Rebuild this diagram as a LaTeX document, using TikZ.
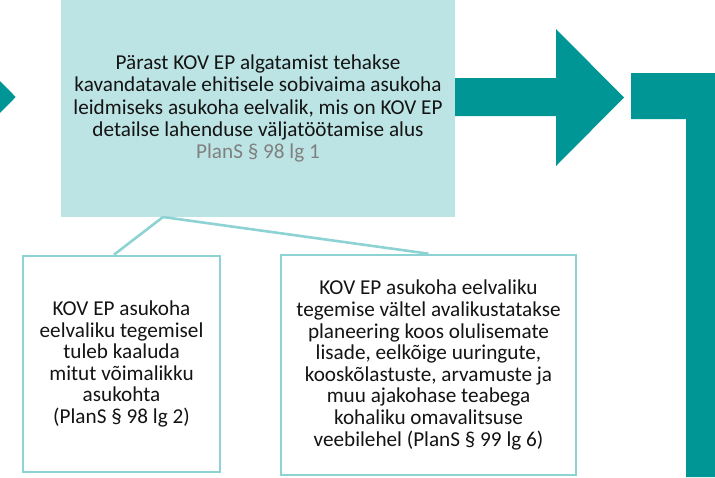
\documentclass[tikz,border=0pt]{standalone}
\usepackage{fontspec}
\setmainfont{Carlito}
\usetikzlibrary{positioning}
\definecolor{tealdark}{HTML}{009696}
\definecolor{teallight}{HTML}{BDE4E4}
\definecolor{tealline}{HTML}{8ED3D3}
\definecolor{txtdark}{HTML}{141414}
\definecolor{refgray}{HTML}{808080}

\begin{document}
\begin{tikzpicture}[x=1pt,y=-1pt,
  boxtext/.style={align=center,inner sep=0pt,text=txtdark,font=\fontsize{21.2}{22.3}\selectfont},
  infobox/.style={boxtext,draw=tealline,line width=2.6pt,fill=white,font=\fontsize{21.2}{21.6}\selectfont},
  link/.style={draw=tealline,line width=2.6pt}]
\useasboundingbox (0,0) rectangle (715,477);

\fill[tealdark] (0,81) -- (15.7,97) -- (0,113) -- cycle;

\node (main) at (258,108.5) [boxtext,fill=teallight,minimum width=394pt,minimum height=217pt]
  {Pärast KOV EP algatamist tehakse\\
   kavandatavale ehitisele sobivaima asukoha\\
   leidmiseks asukoha eelvalik, mis on KOV EP\\
   detailse lahenduse väljatöötamise alus\\
   {\color{refgray}PlanS § 98 lg 1}};

\fill[tealdark] (455,78) -- (556,78) -- (556,29) -- (624,97.5) -- (556,166) -- (556,116) -- (455,116) -- cycle;
\fill[tealdark] (631,73) -- (715,73) -- (715,477) -- (686,477) -- (686,119) -- (631,119) -- cycle;

\node (left) at (121.5,364) [infobox,minimum width=197pt,minimum height=216pt]
  {KOV EP asukoha\\ eelvaliku tegemisel\\ tuleb kaaluda\\ mitut võimalikku\\ asukohta\\ (PlanS § 98 lg 2)};
\node (right) at (428.5,365) [infobox,minimum width=295pt,minimum height=220pt]
  {KOV EP asukoha eelvaliku\\ tegemise vältel avalikustatakse\\ planeering koos olulisemate\\
   lisade, eelkõige uuringute,\\ kooskõlastuste, arvamuste ja\\ muu ajakohase teabega\\
   kohaliku omavalitsuse\\ veebilehel (PlanS § 99 lg 6)};

\coordinate (hub) at (163,217);
\draw[link] (hub) -- ([xshift=-7.5pt]left.north);
\draw[link] (hub) -- (right.north);
\end{tikzpicture}
\end{document}
